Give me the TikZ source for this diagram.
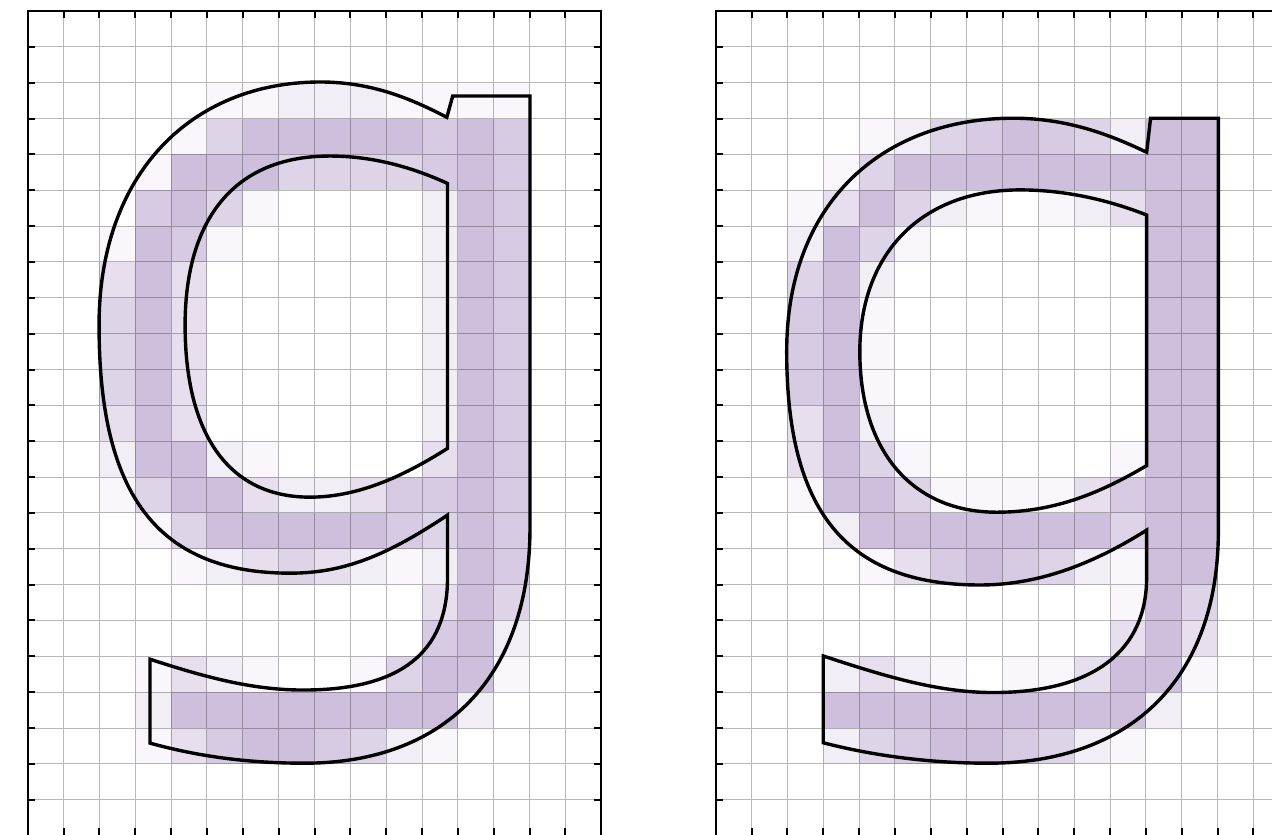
\documentclass[tikz,border=0pt]{standalone}
\usepackage{xcolor}
\usepackage{tikz}

\definecolor{pix}{RGB}{206,192,221}
\colorlet{pix0}{white}
\colorlet{pix1}{pix!12!white}
\colorlet{pix2}{pix!27!white}
\colorlet{pix3}{pix!50!white}
\colorlet{pix4}{pix!68!white}
\colorlet{pix5}{pix!83!white}
\colorlet{pix6}{pix}

\tikzset{
  gridline/.style={line width=0.8pt, draw=black, draw opacity=0.28},
  pixframe/.style={line width=1.6pt},
  glyph/.style={line width=2.7pt, line join=miter},
}

% coverage levels, one row of 16 cells per line
\def\leftpix{%
{0,0,0,0,0,0,0,0,0,0,0,0,0,0,0,0},%
{0,0,0,0,0,0,0,0,0,0,0,0,0,0,0,0},%
{0,0,0,0,0,1,1,2,2,2,1,1,1,1,0,0},%
{0,0,0,0,1,4,6,6,6,6,6,5,6,5,0,0},%
{0,0,0,1,6,6,6,4,4,4,4,5,6,5,0,0},%
{0,0,0,5,6,4,1,0,0,0,0,2,6,5,0,0},%
{0,0,1,6,5,1,0,0,0,0,0,2,6,5,0,0},%
{0,0,3,6,3,0,0,0,0,0,0,2,6,5,0,0},%
{0,0,4,6,3,0,0,0,0,0,0,2,6,5,0,0},%
{0,0,4,6,3,0,0,0,0,0,0,2,6,5,0,0},%
{0,0,4,6,3,0,0,0,0,0,0,2,6,5,0,0},%
{0,0,3,6,3,0,0,0,0,0,0,2,6,5,0,0},%
{0,0,2,6,6,2,1,0,0,0,0,3,6,5,0,0},%
{0,0,1,4,6,6,3,2,2,3,5,5,6,5,0,0},%
{0,0,0,1,4,6,6,6,6,6,5,4,6,5,0,0},%
{0,0,0,0,1,2,3,4,3,2,1,2,6,5,0,0},%
{0,0,0,0,0,0,0,0,0,0,0,3,6,4,0,0},%
{0,0,0,0,0,0,0,0,0,0,0,5,6,2,0,0},%
{0,0,0,1,3,2,1,0,0,1,4,6,6,1,0,0},%
{0,0,0,2,6,6,6,6,6,6,6,6,2,0,0,0},%
{0,0,0,1,3,5,6,6,5,4,2,1,0,0,0,0},%
{0,0,0,0,0,0,0,0,0,0,0,0,0,0,0,0},%
{0,0,0,0,0,0,0,0,0,0,0,0,0,0,0,0}}

\def\rightpix{%
{0,0,0,0,0,0,0,0,0,0,0,0,0,0,0,0},%
{0,0,0,0,0,0,0,0,0,0,0,0,0,0,0,0},%
{0,0,0,0,0,0,0,0,0,0,0,0,0,0,0,0},%
{0,0,0,0,1,2,4,5,6,5,4,2,6,6,0,0},%
{0,0,0,1,4,6,6,6,6,6,6,6,6,6,0,0},%
{0,0,1,3,6,4,2,1,0,1,2,3,6,6,0,0},%
{0,0,2,6,4,1,0,0,0,0,0,0,6,6,0,0},%
{0,0,4,6,2,0,0,0,0,0,0,0,6,6,0,0},%
{0,0,5,6,1,0,0,0,0,0,0,0,6,6,0,0},%
{0,0,5,6,1,0,0,0,0,0,0,0,6,6,0,0},%
{0,0,5,6,1,0,0,0,0,0,0,0,6,6,0,0},%
{0,0,3,6,2,0,0,0,0,0,0,0,6,6,0,0},%
{0,0,3,6,4,1,0,0,0,0,0,1,6,6,0,0},%
{0,0,1,6,6,4,1,1,1,1,3,5,6,6,0,0},%
{0,0,0,2,6,6,6,6,6,6,6,4,6,6,0,0},%
{0,0,0,0,1,3,5,6,5,4,2,1,6,6,0,0},%
{0,0,0,0,0,0,0,0,0,0,0,1,6,4,0,0},%
{0,0,0,0,0,0,0,0,0,0,0,3,6,3,0,0},%
{0,0,0,2,3,2,1,0,1,1,3,6,6,1,0,0},%
{0,0,0,6,6,6,6,6,6,6,6,6,2,0,0,0},%
{0,0,0,2,4,5,6,6,5,4,2,1,0,0,0,0},%
{0,0,0,0,0,0,0,0,0,0,0,0,0,0,0,0},%
{0,0,0,0,0,0,0,0,0,0,0,0,0,0,0,0}}

\newcommand{\pixpanel}[1]{%
  \foreach \row [count=\r from 0] in #1 {
    \foreach \v [count=\c from 0] in \row {
      \fill[pix\v] (\c,\r) rectangle ++(1,1);
    }
  }
  \draw[gridline] (0,0) grid (16,23);
  \draw[pixframe] (0,0) rectangle (16,23);
  % ticks
  \foreach \i in {1,...,15} {
    \draw[pixframe] (\i,0) -- ++(0,0.2);
    \draw[pixframe] (\i,23) -- ++(0,-0.2);
  }
  \foreach \j in {1,...,22} {
    \draw[pixframe] (0,\j) -- ++(0.2,0);
    \draw[pixframe] (16,\j) -- ++(-0.2,0);
  }
}

\begin{document}
\begin{tikzpicture}[x=1cm,y=-1cm]
  \useasboundingbox (0,0) rectangle (35.48,23.29);
  \clip (0,0) rectangle (35.48,23.29);

  % left panel
  \begin{scope}[shift={(0.773,0.307)}]
    \pixpanel{\leftpix}
    \draw[glyph] (14.01,2.37) -- (14.01,14.4)
      .. controls (14.01,18.6) and (11.6,21.0) .. (7.68,20.98)
      .. controls (6.0,20.98) and (4.6,20.75) .. (3.41,20.42)
      -- (3.41,18.08)
      .. controls (5.0,18.6) and (6.3,18.94) .. (7.68,18.94)
      .. controls (10.4,18.94) and (11.71,17.9) .. (11.71,15.8)
      -- (11.71,14.06)
      .. controls (10.0,15.2) and (8.8,15.68) .. (7.32,15.68)
      .. controls (3.4,15.68) and (1.99,13.2) .. (1.99,8.76)
      .. controls (1.99,4.5) and (4.6,1.98) .. (8.16,1.98)
      .. controls (9.6,1.98) and (10.7,2.45) .. (11.69,2.965)
      -- (11.855,2.37) -- cycle;
    \draw[glyph] (11.71,4.81)
      .. controls (10.6,4.3) and (9.5,4.045) .. (8.43,4.045)
      .. controls (5.6,4.045) and (4.39,6.0) .. (4.39,8.76)
      .. controls (4.39,11.8) and (5.6,13.56) .. (7.87,13.56)
      .. controls (9.3,13.56) and (10.6,12.9) .. (11.71,12.2)
      -- cycle;
  \end{scope}

  % right panel
  \begin{scope}[shift={(19.963,0.307)}]
    \pixpanel{\rightpix}
    \draw[glyph] (14.02,2.99) -- (14.02,14.5)
      .. controls (14.02,18.6) and (11.6,21.0) .. (7.56,20.98)
      .. controls (5.9,20.98) and (4.3,20.75) .. (3.0,20.41)
      -- (3.0,17.99)
      .. controls (4.7,18.55) and (6.2,19.01) .. (7.74,19.01)
      .. controls (10.6,19.01) and (12.02,17.8) .. (12.02,15.8)
      -- (12.02,14.48)
      .. controls (10.4,15.5) and (8.9,16.01) .. (7.37,16.01)
      .. controls (3.6,16.01) and (1.98,13.9) .. (1.98,9.5)
      .. controls (1.98,5.3) and (4.7,2.99) .. (8.30,2.99)
      .. controls (9.8,2.99) and (11.0,3.45) .. (12.02,3.94)
      -- (12.13,2.99) -- cycle;
    \draw[glyph] (12.02,5.69)
      .. controls (10.9,5.25) and (9.7,4.99) .. (8.49,4.99)
      .. controls (5.7,4.99) and (4.02,6.8) .. (4.02,9.5)
      .. controls (4.02,12.3) and (5.5,13.98) .. (7.84,13.98)
      .. controls (9.5,13.98) and (10.8,13.4) .. (12.02,12.68)
      -- cycle;
  \end{scope}
\end{tikzpicture}
\end{document}
